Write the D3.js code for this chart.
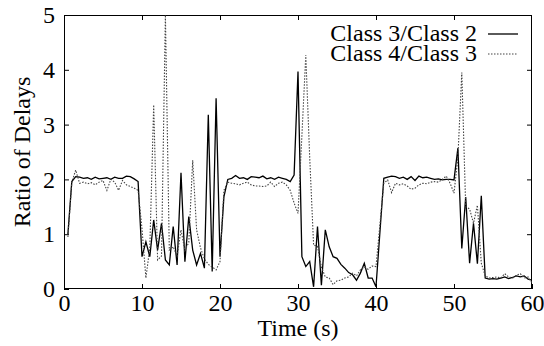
<!DOCTYPE html>
<html>
<head>
<meta charset="utf-8">
<script src="https://cdn.jsdelivr.net/npm/d3@7"></script>
<style>
    body { margin: 0; background: #fff; }
    svg text { font-family: "Liberation Serif", "DejaVu Serif", serif; fill: #000; }
</style>
</head>
<body>
<svg id="chart" width="544" height="346"></svg>
<script>
// sample times (s), one reading per half second
var times = [
    0.5, 1, 1.5, 2, 2.5, 3, 3.5, 4, 4.5, 5, 5.5, 6, 6.5, 7, 7.5, 8, 8.5, 9, 9.5, 10,
    10.5, 11, 11.5, 12, 12.5, 13, 13.5, 14, 14.5, 15, 15.5, 16, 16.5, 17, 17.5, 18, 18.5, 19, 19.5, 20,
    20.5, 21, 21.5, 22, 22.5, 23, 23.5, 24, 24.5, 25, 25.5, 26, 26.5, 27, 27.5, 28, 28.5, 29, 29.5, 30,
    30.5, 31, 31.5, 32, 32.5, 33, 33.5, 34, 34.5, 35, 35.5, 36, 36.5, 37, 37.5, 38, 38.5, 39, 39.5, 40,
    41, 41.5, 42, 42.5, 43, 43.5, 44, 44.5, 45, 45.5, 46, 46.5, 47, 47.5, 48, 48.5, 49, 49.5, 50,
    50.5, 51, 51.5, 52, 52.5, 53, 53.5, 54, 54.5, 55, 55.5, 56, 56.5, 57, 57.5, 58, 58.5, 59, 59.5, 60
];

var class3over2 = [
    1.00, 1.96, 2.05, 2.04, 2.02, 2.03, 2.00, 2.04, 2.01, 2.02, 2.03, 2.00, 2.04, 2.02, 2.02, 2.06, 2.05, 2.01, 1.96, 0.59,
    0.86, 0.59, 1.26, 0.71, 1.20, 0.53, 0.44, 1.14, 0.44, 2.12, 0.50, 1.32, 0.71, 0.44, 0.65, 0.38, 3.18, 0.32, 3.48, 0.59,
    1.68, 2.00, 2.02, 2.07, 2.02, 2.03, 2.00, 2.05, 2.04, 2.03, 2.06, 2.01, 2.03, 2.00, 2.04, 2.02, 2.00, 1.96, 2.08, 3.97,
    0.59, 0.41, 0.50, 0.04, 1.14, 0.07, 1.08, 0.77, 0.59, 0.56, 0.45, 0.38, 0.30, 0.26, 0.16, 0.29, 0.47, 0.20, 0.20, 0.04,
    2.02, 2.04, 2.06, 2.05, 2.02, 2.04, 2.00, 2.05, 1.98, 2.06, 2.03, 2.04, 2.02, 2.00, 2.01, 1.99, 2.00, 2.00, 1.99,
    2.57, 0.74, 1.68, 0.47, 1.20, 0.46, 1.70, 0.20, 0.18, 0.19, 0.18, 0.20, 0.22, 0.19, 0.21, 0.24, 0.22, 0.24, 0.18, 0.16
];

var class4over3 = [
    0.95, 1.95, 2.17, 1.93, 1.95, 1.92, 1.94, 1.90, 1.95, 1.98, 1.80, 2.00, 1.95, 1.80, 1.98, 1.90, 1.87, 1.84, 1.80, 1.10,
    0.20, 0.75, 3.36, 0.53, 0.60, 5.00, 0.71, 0.77, 0.60, 1.08, 0.70, 0.85, 2.35, 1.08, 0.75, 0.55, 0.45, 0.40, 0.35, 0.50,
    1.80, 1.95, 1.93, 1.92, 1.90, 1.93, 1.95, 1.90, 1.88, 1.88, 1.87, 1.88, 1.95, 1.87, 1.93, 1.95, 1.90, 1.80, 1.57, 1.38,
    2.80, 4.27, 2.40, 0.80, 0.78, 0.40, 0.22, 0.20, 0.08, 0.15, 0.16, 0.20, 0.22, 0.29, 0.24, 0.35, 0.40, 0.36, 0.42, 0.41,
    1.93, 1.99, 1.76, 1.93, 1.90, 1.92, 1.88, 1.82, 1.84, 1.90, 1.93, 1.92, 1.95, 1.96, 1.95, 2.00, 2.06, 1.93, 1.75,
    2.40, 3.95, 1.50, 1.46, 1.20, 1.53, 0.47, 0.24, 0.20, 0.21, 0.22, 0.20, 0.28, 0.22, 0.20, 0.25, 0.28, 0.20, 0.22, 0.11
];

var xTicks = [0, 10, 20, 30, 40, 50, 60];
var yTicks = [0, 1, 2, 3, 4, 5];
var seriesNames = ["Class 3/Class 2", "Class 4/Class 3"];

(function () {
    var svg = d3.select("#chart"),
        plotLeft = 64, plotRight = 532, plotTop = 15, plotBottom = 289,
        fontSize = 24;

    var x = d3.scaleLinear().domain([0, 60]).range([plotLeft, plotRight]),
        y = d3.scaleLinear().domain([0, 5]).range([plotBottom, plotTop]);

    svg.append("rect").attr("width", 544).attr("height", 346).attr("fill", "#fff");

    svg.append("defs").append("clipPath").attr("id", "plot")
        .append("rect")
        .attr("x", plotLeft).attr("y", plotTop)
        .attr("width", plotRight - plotLeft).attr("height", plotBottom - plotTop);

    // axes: ticks point inward on all four sides, gnuplot style
    function styleAxis(g) {
        g.select(".domain").remove();
        g.selectAll("line").attr("stroke", "#000").attr("stroke-width", 1);
        g.selectAll("text").style("font-size", fontSize + "px");
    }

    svg.append("g")
        .attr("transform", "translate(0," + plotBottom + ")")
        .call(d3.axisBottom(x).tickValues(xTicks).tickSize(-5).tickPadding(5).tickFormat(d3.format("d")))
        .call(styleAxis);

    svg.append("g")
        .attr("transform", "translate(0," + plotTop + ")")
        .call(d3.axisTop(x).tickValues(xTicks.slice(1, -1)).tickSize(-5).tickFormat(""))
        .call(styleAxis);

    svg.append("g")
        .attr("transform", "translate(" + plotLeft + ",0)")
        .call(d3.axisLeft(y).tickValues(yTicks).tickSize(-5).tickPadding(9).tickFormat(d3.format("d")))
        .call(styleAxis);

    svg.append("g")
        .attr("transform", "translate(" + plotRight + ",0)")
        .call(d3.axisRight(y).tickValues(yTicks.slice(1, -1)).tickSize(-5).tickFormat(""))
        .call(styleAxis);

    svg.append("rect")
        .attr("x", plotLeft + 0.5).attr("y", plotTop + 0.5)
        .attr("width", plotRight - plotLeft - 1).attr("height", plotBottom - plotTop - 1)
        .attr("fill", "none")
        .attr("stroke", "#000")
        .attr("stroke-width", 1);

    // axis titles
    svg.append("text")
        .attr("transform", "translate(30," + ((plotTop + plotBottom) / 2) + ") rotate(-90)")
        .attr("text-anchor", "middle")
        .style("font-size", fontSize + "px")
        .text("Ratio of Delays");

    svg.append("text")
        .attr("x", (plotLeft + plotRight) / 2)
        .attr("y", 336)
        .attr("text-anchor", "middle")
        .style("font-size", fontSize + "px")
        .text("Time (s)");

    // series
    var line = d3.line()
        .x(function (d) { return x(d[0]); })
        .y(function (d) { return y(d[1]); });

    var styles = [
        { stroke: "#000", width: 1.3, dash: null },
        { stroke: "#444", width: 1.1, dash: "1.5,1.5" }
    ];

    [class3over2, class4over3].forEach(function (values, i) {
        svg.append("path")
            .datum(d3.zip(times, values))
            .attr("clip-path", "url(#plot)")
            .attr("fill", "none")
            .attr("stroke", styles[i].stroke)
            .attr("stroke-width", styles[i].width)
            .attr("stroke-dasharray", styles[i].dash)
            .attr("stroke-linejoin", "miter")
            .attr("d", line);
    });

    // legend, top right inside the frame
    var legend = svg.append("g");
    seriesNames.forEach(function (name, i) {
        var baseline = 41 + i * 20;
        legend.append("text")
            .attr("x", 477)
            .attr("y", baseline)
            .attr("text-anchor", "end")
            .style("font-size", fontSize + "px")
            .text(name);
        legend.append("line")
            .attr("x1", 488).attr("x2", 518)
            .attr("y1", baseline - 7).attr("y2", baseline - 7)
            .attr("stroke", styles[i].stroke)
            .attr("stroke-width", styles[i].width)
            .attr("stroke-dasharray", styles[i].dash);
    });
})();
</script>
</body>
</html>
